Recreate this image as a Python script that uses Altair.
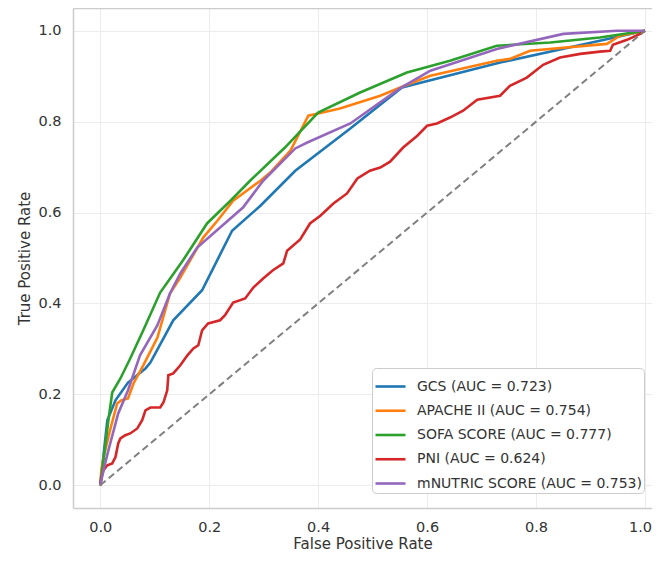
import altair as alt
import pandas as pd

labels = [
    "GCS (AUC = 0.723)",
    "APACHE II (AUC = 0.754)",
    "SOFA SCORE (AUC = 0.777)",
    "PNI (AUC = 0.624)",
    "mNUTRIC SCORE (AUC = 0.753)",
]
colors = ["#1f77b4", "#ff7f0e", "#2ca02c", "#d62728", "#9467bd"]

gcs_fpr = [0, .006, .013, .028, .051, .083, .092, .134, .187, .242, .294, .358, .459, .554, .734, .917, 1]
gcs_tpr = [0, .066, .143, .187, .226, .257, .270, .363, .429, .560, .615, .692, .785, .875, .930, .978, 1]

apache_fpr = [0, .002, .007, .018, .031, .039, .051, .061, .079, .105, .128, .147, .189, .215, .244, .294,
              .312, .349, .382, .400, .440, .514, .563, .606, .728, .752, .789, .930, .954, 1]
apache_tpr = [0, .033, .066, .121, .180, .187, .191, .224, .264, .325, .422, .457, .545, .582, .626, .670,
              .688, .736, .813, .818, .829, .857, .881, .901, .934, .938, .956, .971, .989, 1]

sofa_fpr = [0, .007, .015, .022, .037, .055, .079, .110, .152, .196, .239, .275, .339, .400, .477, .563,
            .642, .728, .826, .917, 1]
sofa_tpr = [0, .066, .143, .204, .235, .279, .341, .424, .495, .576, .626, .670, .743, .820, .864, .908,
            .934, .967, .974, .985, 1]

pni_fpr = [0, .002, .006, .013, .022, .028, .033, .037, .046, .055, .068, .077, .083, .092, .110, .116,
           .123, .125, .134, .147, .160, .171, .180, .187, .198, .220, .229, .244, .266, .281, .299, .317,
           .336, .343, .367, .385, .404, .428, .453, .472, .495, .514, .532, .556, .582, .600, .618, .642,
           .666, .692, .734, .752, .783, .813, .844, .881, .917, .936, .941, .967, .991, 1]
pni_tpr = [0, .015, .033, .044, .048, .062, .092, .103, .110, .114, .125, .143, .165, .171, .171, .182,
           .209, .242, .246, .264, .286, .301, .308, .341, .356, .363, .374, .402, .411, .435, .455, .473,
           .488, .516, .541, .576, .593, .620, .642, .675, .692, .699, .712, .743, .769, .791, .796, .809,
           .824, .848, .857, .879, .897, .925, .941, .949, .954, .956, .969, .980, .993, 1]

mnutric_fpr = [0, .006, .015, .033, .051, .073, .105, .128, .147, .178, .220, .262, .299, .358, .380, .459,
               .550, .606, .728, .850, .949, 1]
mnutric_tpr = [0, .033, .077, .158, .209, .286, .352, .422, .466, .523, .567, .611, .670, .741, .754, .796,
               .873, .912, .960, .993, 1, 1]

diag_x = [0, 1]
diag_y = [0, 1]

series = [
    (labels[0], gcs_fpr, gcs_tpr),
    (labels[1], apache_fpr, apache_tpr),
    (labels[2], sofa_fpr, sofa_tpr),
    (labels[3], pni_fpr, pni_tpr),
    (labels[4], mnutric_fpr, mnutric_tpr),
]
rows = []
for name, xs, ys in series:
    for i, (a, b) in enumerate(zip(xs, ys)):
        rows.append({"model": name, "fpr": a, "tpr": b, "idx": i})
df = pd.DataFrame(rows)
diag = pd.DataFrame({"fpr": diag_x, "tpr": diag_y})

ticks = [0, 0.2, 0.4, 0.6, 0.8, 1.0]
xscale = alt.Scale(domain=[-0.05, 1.0128], nice=False, zero=False)
yscale = alt.Scale(domain=[-0.05, 1.05], nice=False, zero=False)

lines = alt.Chart(df).mark_line(strokeWidth=2.6).encode(
    x=alt.X("fpr:Q", scale=xscale, title="False Positive Rate",
            axis=alt.Axis(values=ticks, format=".1f", domain=True, domainColor="#cccccc",
                          domainWidth=1.5, titlePadding=3,
                          labelOffset=alt.ExprRef(expr="datum.value == 1 ? -5 : 0"))),
    y=alt.Y("tpr:Q", scale=yscale, title="True Positive Rate",
            axis=alt.Axis(values=ticks, format=".1f", domain=True, domainColor="#cccccc",
                          domainWidth=1.5)),
    color=alt.Color("model:N", sort=labels,
                    scale=alt.Scale(domain=labels, range=colors),
                    legend=alt.Legend(title=None, orient="none", legendX=299, legendY=360,
                                      symbolType="stroke", symbolSize=900, symbolStrokeWidth=2.6,
                                      labelFontSize=14, labelColor="#333333", labelFont="DejaVu Sans",
                                      rowPadding=0.25, padding=2, fillColor="white",
                                      strokeColor="#cccccc", cornerRadius=4, labelOffset=10,
                                      labelLimit=400)),
    order="idx:Q",
)

diag_line = alt.Chart(diag).mark_line(strokeDash=[7, 4], color="#808080", strokeWidth=2).encode(
    x=alt.X("fpr:Q", scale=xscale,
            axis=alt.Axis(orient="top", labels=False, ticks=False, grid=False, title=None,
                          domain=True, domainColor="#cccccc", domainWidth=1.5)),
    y=alt.Y("tpr:Q", scale=yscale),
)

chart = alt.layer(lines, diag_line).resolve_axis(x="independent").properties(
    width=579, height=500,
    padding={"left": 65, "top": 0, "right": 0, "bottom": 45},
    autosize="none",
).configure_view(
    stroke=None
).configure_axis(
    grid=True, gridColor="#ececec", gridWidth=1, domain=False, ticks=False,
    labelFont="DejaVu Sans", titleFont="DejaVu Sans",
    labelFontSize=14.5, titleFontSize=15, labelColor="#333333", titleColor="#333333",
    titleFontWeight="normal", labelPadding=12, titlePadding=5,
)

chart.save("out.html", embed_options={"renderer": "svg", "actions": False})
